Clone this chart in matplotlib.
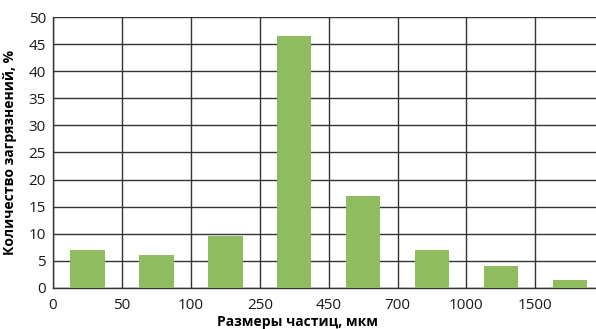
import numpy as np
import matplotlib.pyplot as plt

plt.rcParams['font.family'] = ['Open Sans', 'DejaVu Sans']

# данные гистограммы
bins = ['0', '50', '100', '250', '450', '700', '1000', '1500']
values = [7, 6, 9.5, 46.5, 17, 7, 4, 1.5]

fig = plt.figure(figsize=(5.96, 3.29), dpi=100)
ax = fig.add_axes([0.089, 0.125, 0.911, 0.823])

x = np.arange(len(values)) + 0.5
ax.bar(x, values, width=0.5, color='#8fbc5f', zorder=3)

ax.set_xlim(0, 7.88)
ax.set_ylim(0, 50)
ax.set_xticks(np.arange(len(bins)))
ax.set_xticklabels(bins)
ax.set_yticks(np.arange(0, 51, 5))
ax.tick_params(length=0, labelsize=11, colors='#1a1a1a')
ax.tick_params(axis='x', pad=7)
ax.tick_params(axis='y', pad=5)

ax.grid(True, color='#333333', linewidth=1.0, zorder=0)
ax.set_axisbelow(True)
for side in ['top', 'right']:
    ax.spines[side].set_visible(False)
for side in ['left', 'bottom']:
    ax.spines[side].set_color('#333333')
    ax.spines[side].set_linewidth(1.0)

ax.set_ylabel('Количество загрязнений, %', fontsize=10, fontweight='bold')
ax.yaxis.set_label_coords(-0.066, 0.5)
ax.set_xlabel('Размеры частиц, мкм', fontsize=10, fontweight='bold')
ax.xaxis.set_label_coords(0.45, -0.1)

fig.savefig('out.png', dpi=100)
